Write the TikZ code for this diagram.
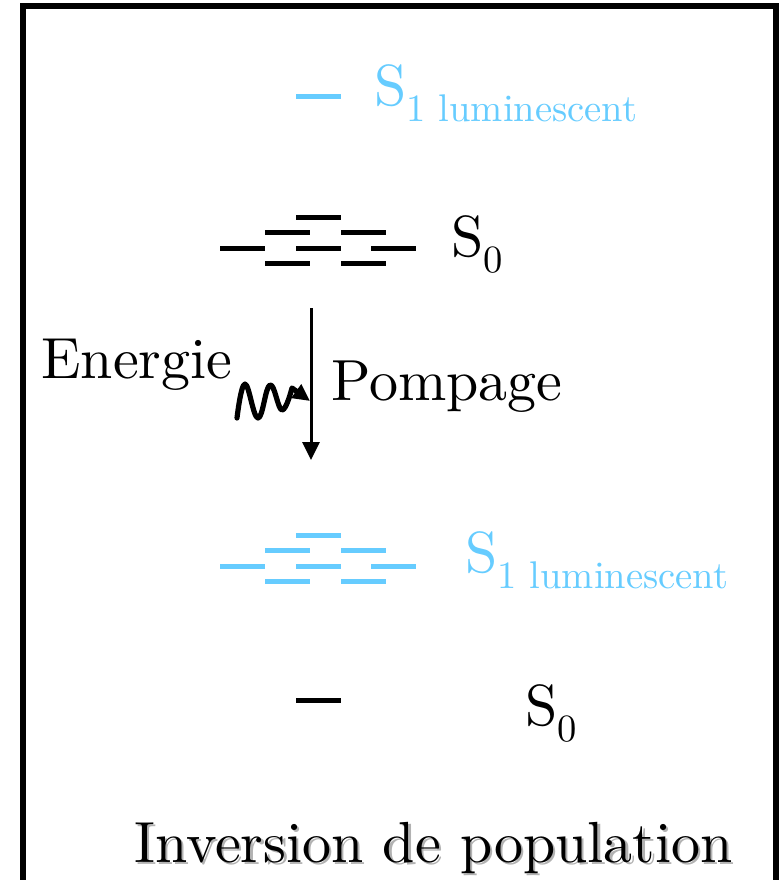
\documentclass[tikz,border=0pt]{standalone}
\usepackage{fontspec}
\usepackage{xcolor}
\usepackage{tikz}
\usetikzlibrary{arrows.meta,positioning}
\setmainfont{lmroman10-regular}[Extension=.otf]
\definecolor{skyblue}{RGB}{102,204,255}
\newcommand{\lvlname}[2]{{\fontsize{29}{34}\selectfont #1}\raisebox{-8pt}{\fontsize{19.3}{22}\selectfont #2}}

\begin{document}
\begin{tikzpicture}[x=0.5pt, y=-0.5pt,
  lvl/.style={line width=2.5pt},
  lbl/.style={inner sep=0pt, anchor=base west, font=\fontsize{29}{34}\selectfont},
  frame/.style={line width=3pt}]
\useasboundingbox (0,0) rectangle (780,880);
% frame, open at the bottom
\draw[frame] (23,880) -- (23,6) -- (776,6) -- (776,880);
% single levels
\draw[lvl, skyblue] (296,96) -- ++(45,0);
\draw[lvl] (296,700) -- ++(45,0);
% split levels
\foreach \y/\clr in {217/black, 535/skyblue}{
  \foreach \x/\dy in {296/0, 265/15, 341/15, 220/31, 296/31, 371/31, 265/46, 341/46}
    \draw[lvl, \clr] (\x,\y+\dy) -- ++(45,0);
}
% labels
\node[lbl, skyblue] (s1top) at (374,105) {\lvlname{S}{1 luminescent}};
\node[lbl] (s0top) at (451,256) {\lvlname{S}{0}};
\node[lbl, skyblue] (s1bot) at (465,572) {\lvlname{S}{1 luminescent}};
\node[lbl] (s0bot) at (525,725) {\lvlname{S}{0}};
\node[lbl] (energie) at (41,378) {Energie};
\node[lbl] (pompage) at (331,400) {Pompage};
\node[lbl, text=gray!60] (invshadow) at (136.5,864.5) {Inversion de population};
\node[lbl] (inv) at (134,862) {Inversion de population};
% pumping
\coordinate (pumptop) at (311,308);
\coordinate (pumpbot) at (311,460);
\coordinate (wavestart) at (237,418);
\coordinate (wavetip) at (310,401);
\draw[line width=1.5pt, -{Triangle[length=9pt,width=8.5pt]}] (pumptop) -- (pumpbot);
\draw[line width=2.6pt, line cap=round, line join=round, -{Triangle[length=8.5pt,width=8pt]}]
  plot[smooth, tension=0.7] coordinates {(wavestart) (245,384) (258,418) (270,385) (282,410) (292,388)} -- (wavetip);
\end{tikzpicture}
\end{document}
